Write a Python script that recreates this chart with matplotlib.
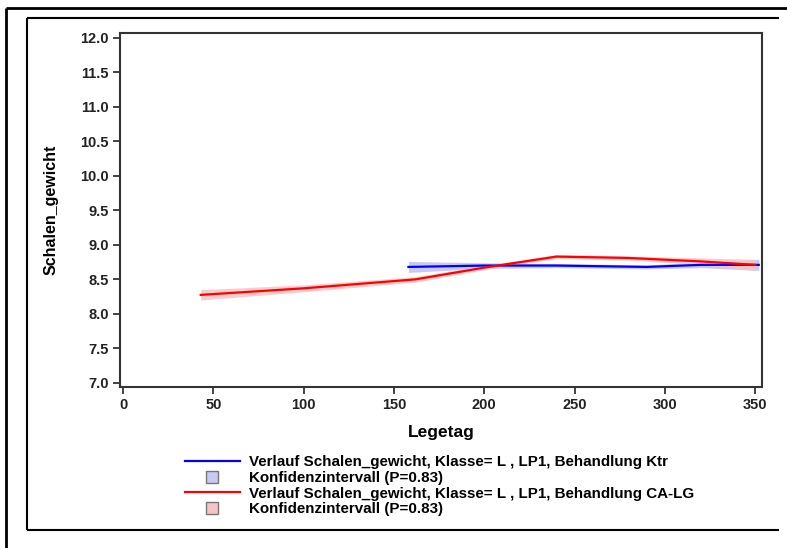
import matplotlib
matplotlib.use("Agg")
import matplotlib.pyplot as plt
from matplotlib.lines import Line2D
import numpy as np

plt.rcParams['font.family'] = ['Liberation Sans', 'DejaVu Sans']
plt.rcParams['font.weight'] = 'bold'

# Data
ktr_day = [158, 200, 240, 290, 320, 352]
ktr_mean = [8.68, 8.70, 8.70, 8.68, 8.71, 8.71]
ktr_lower = [8.60, 8.66, 8.67, 8.65, 8.67, 8.63]
ktr_upper = [8.76, 8.74, 8.73, 8.71, 8.75, 8.79]

calg_day = [43, 100, 162, 200, 240, 280, 320, 350]
calg_mean = [8.275, 8.37, 8.50, 8.67, 8.83, 8.81, 8.76, 8.71]
calg_lower = [8.20, 8.32, 8.46, 8.64, 8.80, 8.78, 8.71, 8.63]
calg_upper = [8.35, 8.42, 8.54, 8.70, 8.86, 8.84, 8.81, 8.79]

x_ticks = [0, 50, 100, 150, 200, 250, 300, 350]
y_ticks = [7.0, 7.5, 8.0, 8.5, 9.0, 9.5, 10.0, 10.5, 11.0, 11.5, 12.0]

labels = [
    "Verlauf Schalen_gewicht, Klasse= L , LP1, Behandlung Ktr",
    "Konfidenzintervall (P=0.83)",
    "Verlauf Schalen_gewicht, Klasse= L , LP1, Behandlung CA-LG",
    "Konfidenzintervall (P=0.83)",
]

W, H = 787, 548
fig = plt.figure(figsize=(W / 100, H / 100), dpi=100)
ax = fig.add_axes([120 / W, 1 - 387 / H, (762 - 120) / W, (387 - 33) / H])

blue_band = '#c9c9f4'
red_band = '#f6c4c4'

ax.fill_between(ktr_day, ktr_lower, ktr_upper, color=blue_band, lw=0, zorder=1)
ax.fill_between(calg_day, calg_lower, calg_upper, color=red_band, lw=0, alpha=0.85, zorder=2)
ax.plot(ktr_day, ktr_mean, color='#0000ff', lw=1.6, zorder=3)
ax.plot(calg_day, calg_mean, color='#ff0000', lw=1.6, zorder=4)

ax.set_xlim(-1.7, 353.8)
ax.set_ylim(6.94, 12.07)
ax.set_xticks(x_ticks)
ax.set_xticklabels([str(v) for v in x_ticks])
ax.set_yticks(y_ticks)
ax.set_yticklabels([f"{v:.1f}" for v in y_ticks])
ax.tick_params(direction='out', length=5, width=1.2, labelsize=10.5, colors='#222222', pad=3)
for lab in ax.get_xticklabels() + ax.get_yticklabels():
    lab.set_fontweight('bold')
for sp in ax.spines.values():
    sp.set_linewidth(1.5)
    sp.set_color('#333333')

ax.set_xlabel("Legetag", fontsize=12.5, fontweight='bold', labelpad=9)
ax.set_ylabel("Schalen_gewicht", fontsize=11.5, fontweight='bold', labelpad=16)

handles = [
    Line2D([], [], color='#0000ff', lw=1.6),
    Line2D([], [], marker='s', ls='none', markersize=8, markerfacecolor=blue_band, markeredgecolor='#777777', markeredgewidth=1),
    Line2D([], [], color='#ff0000', lw=1.6),
    Line2D([], [], marker='s', ls='none', markersize=8, markerfacecolor=red_band, markeredgecolor='#777777', markeredgewidth=1),
]
leg = fig.legend(handles, labels, loc='upper left', bbox_to_anchor=(185 / W, 1 - 455 / H),
                 frameon=False, prop={'size': 10.9, 'weight': 'bold'}, handlelength=3.6,
                 handletextpad=0.65, labelspacing=0.12, borderaxespad=0, borderpad=0)

# Borders
def fline(xs, ys, lw):
    fig.add_artist(Line2D([x / W for x in xs], [1 - y / H for y in ys], color='black', lw=lw,
                          transform=fig.transFigure, solid_capstyle='butt'))

fline([6, 6], [8, 548], 2.0)
fline([6, 787], [8, 8], 2.0)
fline([27, 27], [18, 530], 1.5)
fline([27, 779], [18, 18], 1.5)
fline([27, 779], [530, 530], 1.5)

fig.savefig("out.png", dpi=100)
